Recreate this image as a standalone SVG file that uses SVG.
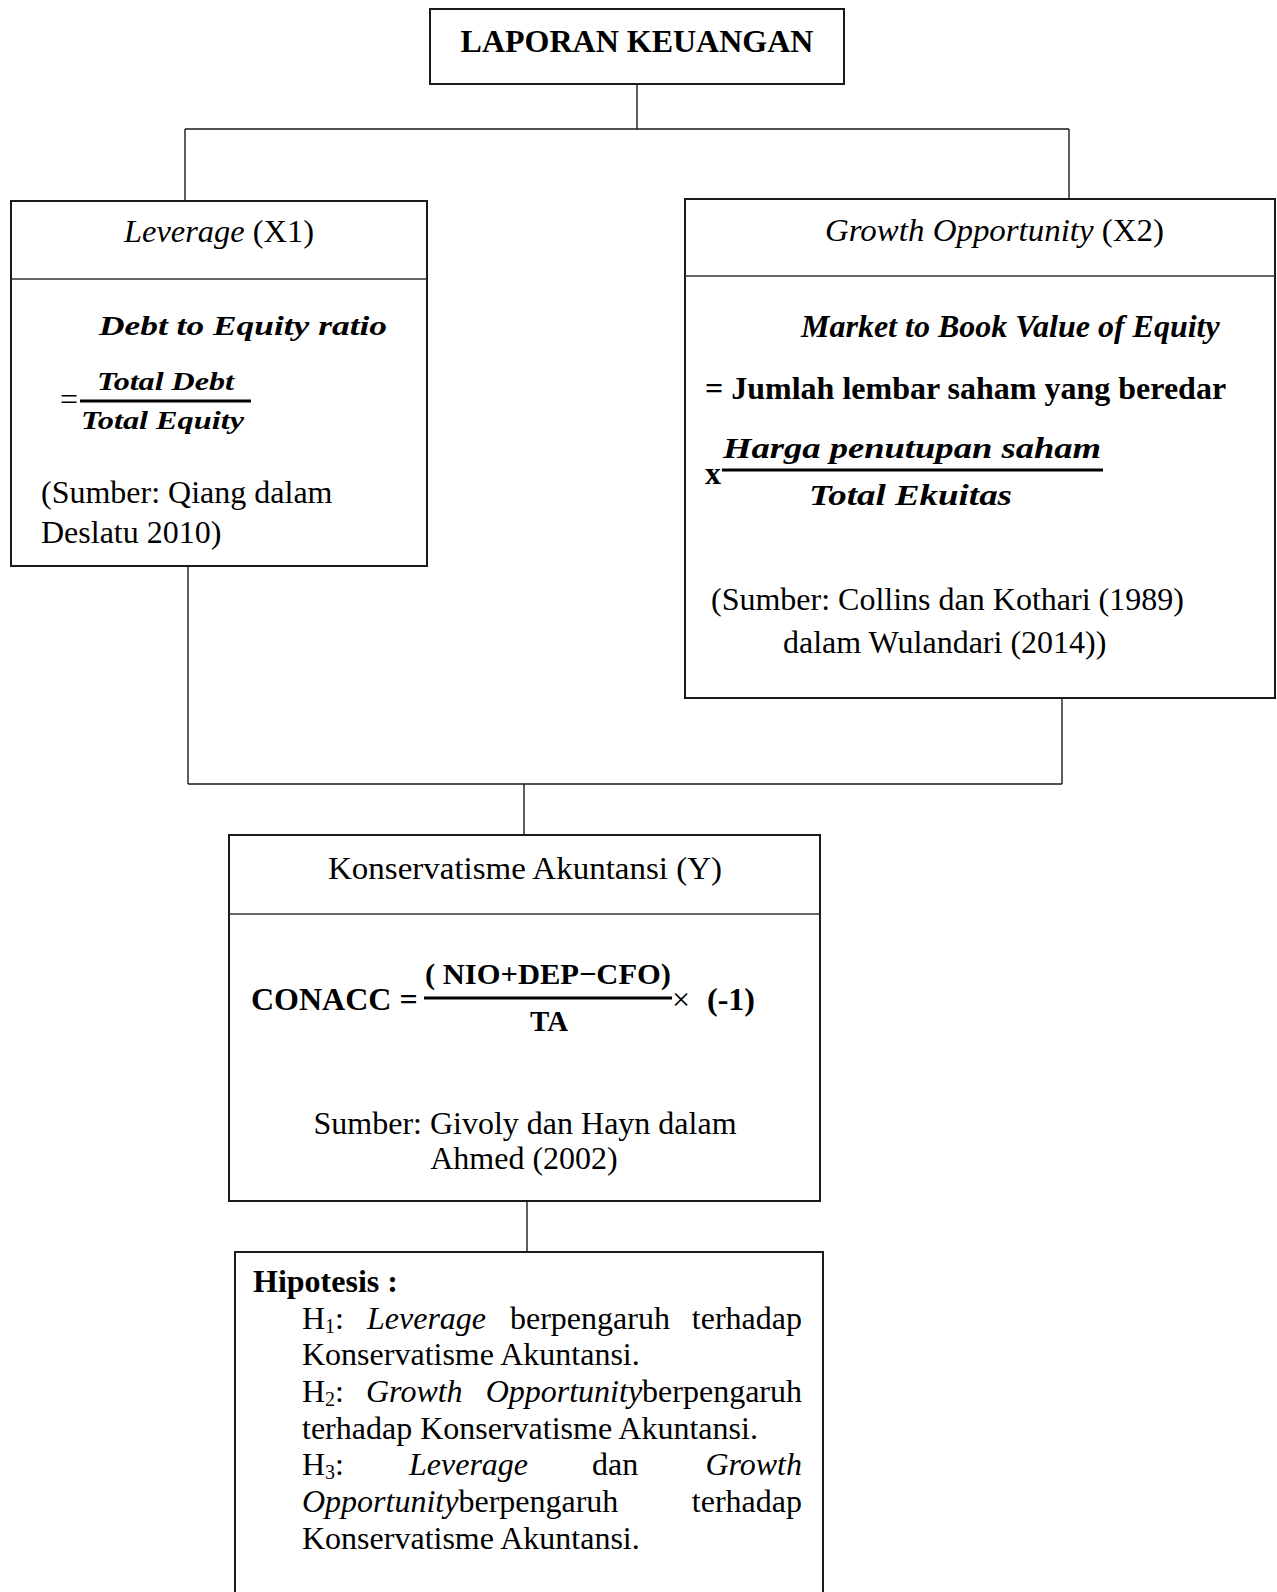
<svg xmlns="http://www.w3.org/2000/svg" width="1277" height="1592" viewBox="0 0 1277 1592">
<style>
.box{fill:#fff;stroke:#1a1a1a;stroke-width:2}
.div{stroke:#333;stroke-width:1.5}
.con{fill:none;stroke:#1a1a1a;stroke-width:1.4}
.t{font-family:"Liberation Serif","Times New Roman",serif;font-size:32px;fill:#000}
.b{font-weight:bold}
.i{font-style:italic}
.h{font-family:"Liberation Serif","Times New Roman",serif;font-size:32px;fill:#000}
.m{font-family:"Liberation Serif","Times New Roman",serif;font-weight:bold;font-style:italic;fill:#000}
.fl{stroke:#000;stroke-width:2.8}
</style>
<rect width="1277" height="1592" fill="#fff"/>
<g id="connectors">
<path class="con" d="M637 84V129M185 129H1069M185 129V201M1069 129V199"/>
<path class="con" d="M188 566V784M1062 698V784M188 784H1062M524 784V835"/>
<path class="con" d="M527 1201V1251"/>
</g>
<g id="laporan">
<rect class="box" x="430" y="9" width="414" height="75" stroke-width="2.5"/>
<text class="t b" x="637" y="52" text-anchor="middle">LAPORAN KEUANGAN</text>
</g>
<g id="leverage">
<rect class="box" x="11" y="201" width="416" height="365"/>
<line class="div" x1="11" y1="279" x2="427" y2="279"/>
<text class="h" x="124" y="242" textLength="190" lengthAdjust="spacingAndGlyphs"><tspan class="i">Leverage</tspan> (X1)</text>
<text class="m" x="99" y="335" font-size="28" textLength="288" lengthAdjust="spacingAndGlyphs">Debt to Equity ratio</text>
<text class="t" x="60" y="410" font-size="22">=</text>
<text class="m" x="97" y="390" font-size="26" textLength="137" lengthAdjust="spacingAndGlyphs">Total Debt</text>
<line class="fl" x1="80" y1="401" x2="251" y2="401"/>
<text class="m" x="81" y="429" font-size="26" textLength="163" lengthAdjust="spacingAndGlyphs">Total Equity</text>
<text class="t" x="41" y="503">(Sumber: Qiang dalam</text>
<text class="t" x="41" y="543">Deslatu 2010)</text>
</g>
<g id="growth">
<rect class="box" x="685" y="199" width="590" height="499"/>
<line class="div" x1="685" y1="276" x2="1275" y2="276"/>
<text class="h" x="825" y="241" textLength="339" lengthAdjust="spacingAndGlyphs"><tspan class="i">Growth Opportunity</tspan> (X2)</text>
<text class="t b i" x="801" y="337">Market to Book Value of Equity</text>
<text class="t b" x="705" y="399">= Jumlah lembar saham yang beredar</text>
<text class="t b" x="705" y="484" font-size="28">x</text>
<text class="m" x="723" y="458" font-size="30" textLength="378" lengthAdjust="spacingAndGlyphs">Harga penutupan saham</text>
<line class="fl" x1="722" y1="470" x2="1103" y2="470"/>
<text class="m" x="809" y="505" font-size="30" textLength="203" lengthAdjust="spacingAndGlyphs">Total Ekuitas</text>
<text class="t" x="711" y="610">(Sumber: Collins dan Kothari (1989)</text>
<text class="t" x="783" y="653">dalam Wulandari (2014))</text>
</g>
<g id="konservatisme">
<rect class="box" x="229" y="835" width="591" height="366"/>
<line class="div" x1="229" y1="914" x2="820" y2="914"/>
<text class="h" x="328" y="879" textLength="394" lengthAdjust="spacingAndGlyphs">Konservatisme Akuntansi (Y)</text>
<text class="t b" x="251" y="1010">CONACC =</text>
<text x="425" y="984" font-family="Liberation Serif, serif" font-weight="bold" font-size="30" textLength="246" lengthAdjust="spacingAndGlyphs">( NIO+DEP−CFO)</text>
<line class="fl" x1="424" y1="998" x2="672" y2="998"/>
<text x="530" y="1031" font-family="Liberation Serif, serif" font-weight="bold" font-size="30" textLength="38" lengthAdjust="spacingAndGlyphs">TA</text>
<text class="t" x="672" y="1010" font-size="26">×</text>
<text class="t b" x="707" y="1010">(-1)</text>
<text class="t" x="525" y="1134" text-anchor="middle">Sumber: Givoly dan Hayn dalam</text>
<text class="t" x="524" y="1169" text-anchor="middle">Ahmed (2002)</text>
</g>
<g id="hipotesis">
<path class="box" d="M235 1592V1252H823V1592"/>
<text class="t b" x="253" y="1292">Hipotesis :</text>
<text class="t" x="302" y="1329">H<tspan font-size="20" dy="4">1</tspan><tspan dy="-4">:</tspan></text>
<text class="t i" x="367" y="1329">Leverage</text>
<text class="t" x="510" y="1329">berpengaruh</text>
<text class="t" x="802" y="1329" text-anchor="end">terhadap</text>
<text class="t" x="302" y="1365">Konservatisme Akuntansi.</text>
<text class="t" x="302" y="1402">H<tspan font-size="20" dy="4">2</tspan><tspan dy="-4">:</tspan></text>
<text class="t i" x="366" y="1402">Growth</text>
<text class="t" x="802" y="1402" text-anchor="end"><tspan class="i">Opportunity</tspan>berpengaruh</text>
<text class="t" x="302" y="1439">terhadap Konservatisme Akuntansi.</text>
<text class="t" x="302" y="1475">H<tspan font-size="20" dy="4">3</tspan><tspan dy="-4">:</tspan></text>
<text class="t i" x="409" y="1475">Leverage</text>
<text class="t" x="592" y="1475">dan</text>
<text class="t i" x="802" y="1475" text-anchor="end">Growth</text>
<text class="t" x="302" y="1512"><tspan class="i">Opportunity</tspan>berpengaruh</text>
<text class="t" x="802" y="1512" text-anchor="end">terhadap</text>
<text class="t" x="302" y="1549">Konservatisme Akuntansi.</text>
</g>
</svg>
